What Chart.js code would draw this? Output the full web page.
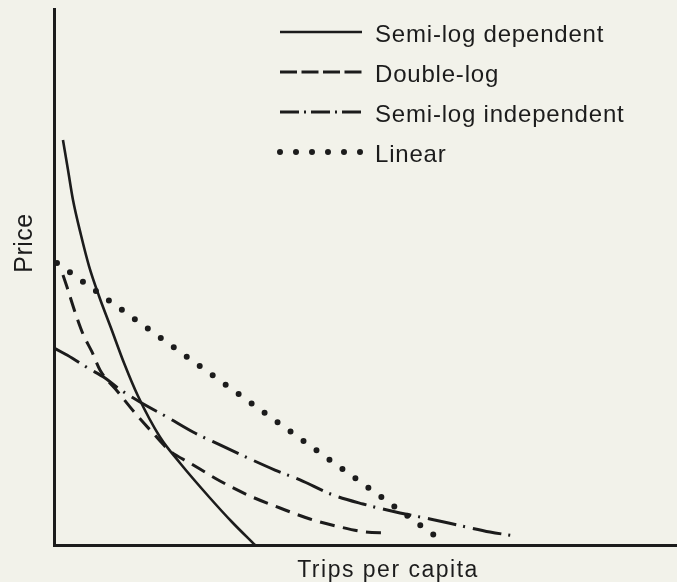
<!DOCTYPE html>
<html>
<head>
<meta charset="utf-8">
<script src="https://cdn.jsdelivr.net/npm/chart.js@4.4.1/dist/chart.umd.min.js"></script>
<style>
  html, body { margin: 0; padding: 0; background: #f2f2ea; overflow: hidden; }
</style>
</head>
<body>
<canvas id="demandChart" width="677" height="582"></canvas>
<script>
// Demand curves (x = trips per capita, y = price, arbitrary units)
const semiLogDepX = [0.144, 0.225, 0.305, 0.433, 0.562, 0.722, 0.915, 1.124, 1.348, 1.701, 2.022, 2.504, 2.857, 3.226];
const semiLogDepY = [7.556, 6.996, 6.437, 5.784, 5.205, 4.646, 4.049, 3.396, 2.780, 2.015, 1.530, 0.877, 0.429, 0.0];

const doubleLogX = [0.144, 0.209, 0.337, 0.465, 0.610, 0.738, 1.027, 1.300, 1.573, 1.862, 2.183, 2.665, 3.146, 3.628, 4.109, 4.591, 4.992, 5.361];
const doubleLogY = [5.037, 4.813, 4.347, 3.937, 3.601, 3.265, 2.854, 2.463, 2.108, 1.754, 1.530, 1.194, 0.914, 0.690, 0.485, 0.336, 0.243, 0.224];

const semiLogIndX = [0.0, 0.289, 0.546, 0.819, 1.027, 1.380, 1.814, 2.231, 2.665, 3.114, 3.547, 3.949, 4.478, 4.960, 5.554, 6.035, 6.549, 6.998, 7.400];
const semiLogIndY = [3.675, 3.489, 3.302, 3.116, 2.929, 2.668, 2.388, 2.108, 1.866, 1.623, 1.399, 1.213, 0.933, 0.765, 0.597, 0.485, 0.354, 0.243, 0.168];

const linearX = [0.048, 6.276];
const linearY = [5.261, 0.037];

const seriesNames = ['Semi-log dependent', 'Double-log', 'Semi-log independent', 'Linear'];
const xTitle = 'Trips per capita';
const yTitle = 'Price';

const ink = '#1c1c1c';
const fontFamily = '"Liberation Sans", Arial, Helvetica, sans-serif';

function pts(xs, ys) {
  return xs.map((x, i) => ({ x: x, y: ys[i] }));
}

// legend + axis captions drawn like the printed figure
const paperText = {
  id: 'paperText',
  afterDraw(chart) {
    const ctx = chart.ctx;
    const rows = [32, 72, 112, 152];
    chart.data.datasets.forEach((ds, i) => {
      ctx.save();
      ctx.strokeStyle = ds.borderColor;
      ctx.lineWidth = ds.borderWidth;
      ctx.lineCap = ds.borderCapStyle || 'butt';
      ctx.setLineDash(ds.legendDash || ds.borderDash || []);
      ctx.beginPath();
      ctx.moveTo(280, rows[i]);
      ctx.lineTo(362, rows[i]);
      ctx.stroke();
      ctx.restore();

      ctx.save();
      ctx.fillStyle = ink;
      ctx.font = '24px ' + fontFamily;
      ctx.letterSpacing = '0.8px';
      ctx.textBaseline = 'alphabetic';
      ctx.fillText(ds.label, 375, rows[i] + 9.5);
      ctx.restore();
    });

    ctx.save();
    ctx.fillStyle = ink;
    ctx.font = '23px ' + fontFamily;
    ctx.letterSpacing = '1.5px';
    ctx.textAlign = 'center';
    ctx.textBaseline = 'alphabetic';
    ctx.fillText(xTitle, 388, 577);
    ctx.restore();

    ctx.save();
    ctx.fillStyle = ink;
    ctx.font = '25px ' + fontFamily;
    ctx.letterSpacing = '0.5px';
    ctx.translate(32, 243);
    ctx.rotate(-Math.PI / 2);
    ctx.textAlign = 'center';
    ctx.textBaseline = 'alphabetic';
    ctx.fillText(yTitle, 0, 0);
    ctx.restore();
  }
};

const hiddenAxis = {
  type: 'linear',
  min: 0,
  max: 10,
  grid: { display: false, drawTicks: false },
  ticks: { display: false },
  border: { display: true, color: ink, width: 3 }
};

new Chart(document.getElementById('demandChart'), {
  type: 'line',
  data: {
    datasets: [
      {
        label: seriesNames[0],
        data: pts(semiLogDepX, semiLogDepY),
        borderColor: ink,
        borderWidth: 2.6
      },
      {
        label: seriesNames[1],
        data: pts(doubleLogX, doubleLogY),
        borderColor: ink,
        borderWidth: 3,
        borderDash: [15, 8.5],
        legendDash: [17, 4.5]
      },
      {
        label: seriesNames[2],
        data: pts(semiLogIndX, semiLogIndY),
        borderColor: ink,
        borderWidth: 3,
        borderDash: [29, 7, 2, 8],
        legendDash: [19, 5, 2, 5]
      },
      {
        label: seriesNames[3],
        data: pts(linearX, linearY),
        borderColor: ink,
        borderWidth: 6,
        borderCapStyle: 'round',
        borderDash: [0, 16]
      }
    ]
  },
  options: {
    responsive: false,
    animation: false,
    devicePixelRatio: 1,
    layout: { padding: { left: 54, top: 9, right: 0, bottom: 37 } },
    elements: {
      point: { radius: 0 },
      line: { cubicInterpolationMode: 'monotone', fill: false }
    },
    scales: {
      x: Object.assign({}, hiddenAxis),
      y: Object.assign({}, hiddenAxis)
    },
    plugins: {
      legend: { display: false },
      tooltip: { enabled: false }
    }
  },
  plugins: [paperText]
});
</script>
</body>
</html>
